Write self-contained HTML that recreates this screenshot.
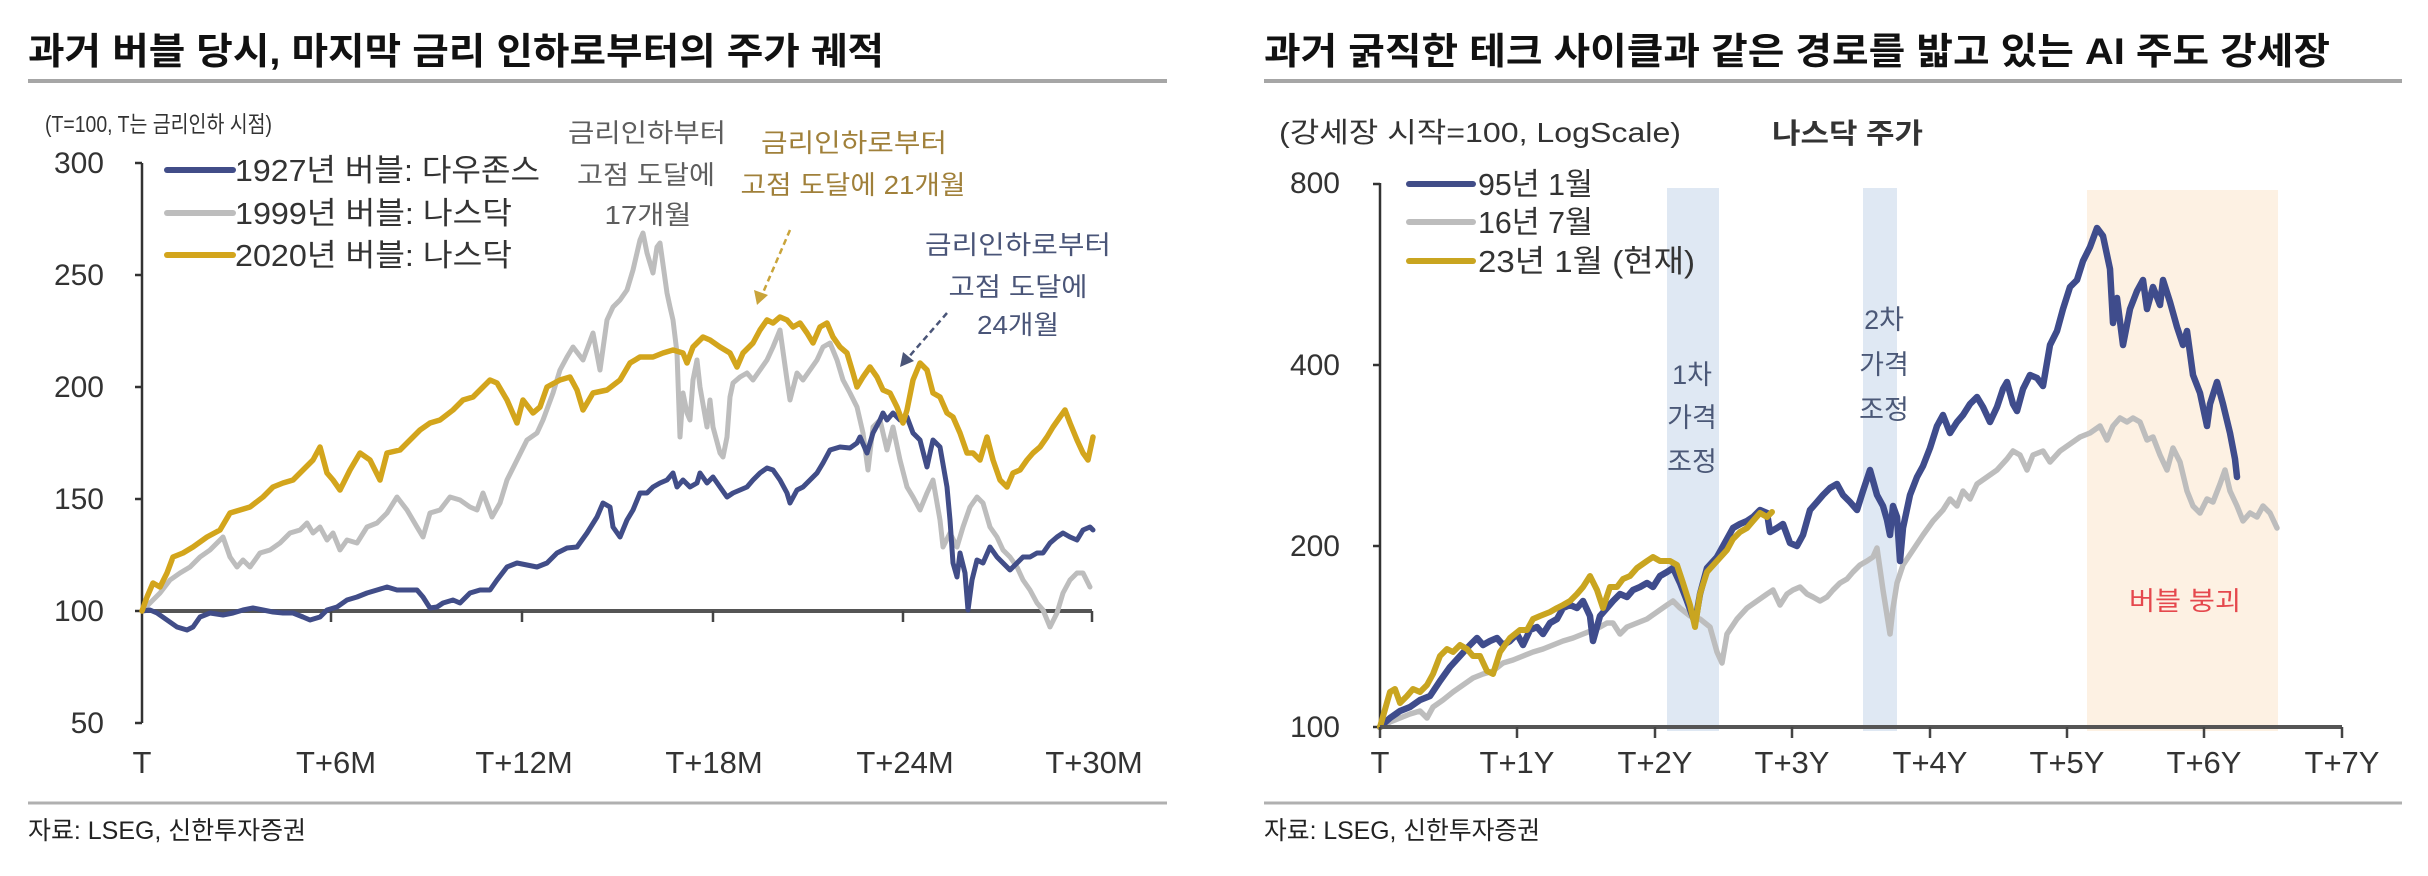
<!DOCTYPE html>
<html><head><meta charset="utf-8">
<style>
html,body{margin:0;padding:0;background:#fff;}
svg{display:block;}
text{font-family:"Liberation Sans","Noto Sans CJK KR",sans-serif;}
</style></head>
<body>
<svg width="2428" height="876" viewBox="0 0 2428 876" xmlns="http://www.w3.org/2000/svg">
<rect width="2428" height="876" fill="#fff"/>

<!-- ================= LEFT PANEL ================= -->
<text x="28" y="64" font-size="37" font-weight="bold" fill="#111" textLength="856" lengthAdjust="spacingAndGlyphs">과거 버블 당시, 마지막 금리 인하로부터의 주가 궤적</text>
<line x1="28" y1="81" x2="1167" y2="81" stroke="#a6a6a6" stroke-width="4"/>

<text x="45" y="132" font-size="23" fill="#333" textLength="227" lengthAdjust="spacingAndGlyphs">(T=100, T는 금리인하 시점)</text>

<!-- y labels -->
<g font-size="30" fill="#333" text-anchor="end">
<text x="104" y="173">300</text>
<text x="104" y="285">250</text>
<text x="104" y="397">200</text>
<text x="104" y="509">150</text>
<text x="104" y="621">100</text>
<text x="104" y="733">50</text>
</g>
<!-- y axis -->
<line x1="142" y1="163" x2="142" y2="723" stroke="#333" stroke-width="2.5"/>
<g stroke="#333" stroke-width="2.5">
<line x1="135" y1="163" x2="142" y2="163"/>
<line x1="135" y1="275" x2="142" y2="275"/>
<line x1="135" y1="387" x2="142" y2="387"/>
<line x1="135" y1="499" x2="142" y2="499"/>
<line x1="135" y1="611" x2="142" y2="611"/>
<line x1="135" y1="723" x2="142" y2="723"/>
</g>

<!-- legend left -->
<g stroke-width="6" stroke-linecap="round">
<line x1="167" y1="170" x2="233" y2="170" stroke="#414d88"/>
<line x1="167" y1="213" x2="233" y2="213" stroke="#bdbdbd"/>
<line x1="167" y1="255" x2="233" y2="255" stroke="#d3a51c"/>
</g>
<g font-size="31" fill="#333">
<text x="235" y="181" textLength="305" lengthAdjust="spacingAndGlyphs">1927년 버블: 다우존스</text>
<text x="235" y="224" textLength="277" lengthAdjust="spacingAndGlyphs">1999년 버블: 나스닥</text>
<text x="235" y="266" textLength="277" lengthAdjust="spacingAndGlyphs">2020년 버블: 나스닥</text>
</g>

<!-- annotations left -->
<g font-size="26" text-anchor="middle">
<text x="647" y="142" fill="#5e5e5e" textLength="158" lengthAdjust="spacingAndGlyphs">금리인하부터</text>
<text x="646" y="184" fill="#5e5e5e" textLength="138" lengthAdjust="spacingAndGlyphs">고점 도달에</text>
<text x="648" y="224" fill="#5e5e5e" textLength="87" lengthAdjust="spacingAndGlyphs">17개월</text>
<text x="854" y="152" fill="#a0803a" textLength="186" lengthAdjust="spacingAndGlyphs">금리인하로부터</text>
<text x="853" y="194" fill="#a0803a" textLength="225" lengthAdjust="spacingAndGlyphs">고점 도달에 21개월</text>
<text x="1018" y="254" fill="#4a5578" textLength="186" lengthAdjust="spacingAndGlyphs">금리인하로부터</text>
<text x="1018" y="296" fill="#4a5578" textLength="139" lengthAdjust="spacingAndGlyphs">고점 도달에</text>
<text x="1018" y="334" fill="#4a5578" textLength="82" lengthAdjust="spacingAndGlyphs">24개월</text>
</g>
<!-- arrows -->
<line x1="790" y1="230" x2="762" y2="295" stroke="#c9a43a" stroke-width="2.5" stroke-dasharray="6,4"/>
<polygon points="757,305 754,290 768,295" fill="#c9a43a"/>
<line x1="947" y1="313" x2="907" y2="359" stroke="#4a5578" stroke-width="2.5" stroke-dasharray="6,4"/>
<polygon points="900,367 903,352 914,361" fill="#4a5578"/>

<!-- x axis left -->
<line x1="142" y1="611" x2="1092" y2="611" stroke="#555" stroke-width="4"/>
<g stroke="#444" stroke-width="2.5">
<line x1="331" y1="611" x2="331" y2="622"/>
<line x1="522" y1="611" x2="522" y2="622"/>
<line x1="713" y1="611" x2="713" y2="622"/>
<line x1="903" y1="611" x2="903" y2="622"/>
<line x1="1092" y1="611" x2="1092" y2="622"/>
</g>
<g font-size="31" fill="#333" text-anchor="middle">
<text x="142" y="773">T</text>
<text x="336" y="773">T+6M</text>
<text x="524" y="773">T+12M</text>
<text x="714" y="773">T+18M</text>
<text x="905" y="773">T+24M</text>
<text x="1094" y="773">T+30M</text>
</g>

<!-- series left -->
<g fill="none" stroke-linejoin="round" stroke-linecap="round">
<polyline stroke="#bdbdbd" stroke-width="5" points="142,611 150,603 160,593 170,580 180,573 190,567 200,557 210,550 220,540 223,537 230,557 237,567 243,560 250,567 260,553 270,550 280,543 290,533 300,530 307,523 313,533 320,527 327,540 333,533 340,550 347,540 357,543 367,527 377,523 387,513 397,497 407,510 417,527 423,537 430,513 440,510 450,497 460,500 470,507 477,510 483,493 492,517 500,503 507,480 517,460 527,440 537,433 543,420 553,393 560,370 567,357 573,347 583,360 593,333 600,370 607,320 613,307 620,300 627,290 633,270 640,240 643,233 647,253 653,273 657,247 660,243 667,293 670,307 673,320 677,353 680,437 683,393 687,413 690,420 693,380 697,360 700,387 707,427 710,400 713,427 720,453 723,457 727,437 730,397 733,383 740,377 747,373 753,380 760,370 767,360 773,347 780,330 787,380 790,400 797,373 803,380 810,370 817,360 823,347 830,343 837,360 843,380 850,393 857,407 863,433 868,470 873,427 880,420 887,450 893,427 900,460 907,487 913,497 920,510 927,493 933,480 940,520 943,547 950,533 957,547 963,527 970,507 977,497 983,503 990,527 997,537 1003,550 1010,557 1017,567 1023,580 1030,590 1037,603 1043,610 1050,627 1057,613 1063,593 1070,580 1077,573 1083,573 1090,587"/>
<polyline stroke="#414d88" stroke-width="5" points="142,611 150,610 157,613 167,620 177,627 187,630 193,627 200,617 210,613 223,615 233,613 243,610 253,608 263,610 273,612 283,613 293,613 303,617 310,620 320,617 327,610 337,607 347,600 357,597 367,593 377,590 387,587 397,590 407,590 417,590 423,597 430,608 437,607 443,603 453,600 460,603 470,593 480,590 490,590 497,580 507,567 517,563 527,565 537,567 547,563 557,553 567,548 577,547 587,533 597,517 603,503 610,507 613,527 620,537 627,520 633,510 640,493 647,493 653,487 660,483 667,480 673,473 677,487 683,480 690,487 697,483 700,473 707,483 713,477 720,487 727,497 733,493 740,490 747,487 753,480 760,473 767,468 773,470 780,480 787,493 790,503 797,490 803,487 810,480 817,473 823,463 830,450 840,447 850,448 857,443 860,437 867,453 873,433 880,420 883,413 887,420 893,413 900,420 907,417 913,433 920,440 927,467 930,453 933,440 940,447 947,487 950,520 953,563 957,577 960,553 965,573 968,610 972,580 977,560 983,563 990,547 997,557 1003,563 1010,570 1017,563 1023,557 1030,557 1037,553 1043,553 1050,543 1057,537 1063,533 1070,537 1077,540 1083,530 1090,527 1093,530"/>
<polyline stroke="#d3a51c" stroke-width="5.5" points="142,611 147,597 153,583 160,587 167,573 173,557 183,553 193,547 207,537 220,530 230,513 240,510 250,507 263,497 273,487 283,483 293,480 303,470 313,460 320,447 327,473 333,480 340,490 350,470 360,453 370,460 380,480 387,453 400,450 410,440 420,430 430,423 440,420 453,410 463,400 473,397 483,387 490,380 497,383 507,400 517,423 523,400 533,413 540,407 547,387 560,380 570,377 577,390 583,410 593,393 607,390 620,380 630,363 640,357 653,357 663,353 673,350 683,353 687,363 693,347 703,337 710,340 720,347 730,353 737,367 743,353 753,343 760,330 767,320 773,323 780,317 787,320 793,327 800,323 807,333 813,343 820,327 827,323 833,337 840,347 847,353 853,373 857,387 863,377 870,367 877,377 883,390 890,393 897,407 903,423 907,410 913,380 920,363 927,370 933,393 940,397 947,413 953,417 960,433 967,453 973,453 980,460 987,437 993,460 1000,480 1007,487 1013,473 1020,470 1027,460 1033,453 1040,447 1047,437 1053,427 1060,417 1065,410 1070,423 1077,440 1083,453 1088,460 1093,437"/>
</g>

<line x1="28" y1="803" x2="1167" y2="803" stroke="#b0b0b0" stroke-width="3"/>
<text x="28" y="839" font-size="25" fill="#222" textLength="278" lengthAdjust="spacingAndGlyphs">자료: LSEG, 신한투자증권</text>

<!-- ================= RIGHT PANEL ================= -->
<text x="1264" y="64" font-size="37" font-weight="bold" fill="#111" textLength="1066" lengthAdjust="spacingAndGlyphs">과거 굵직한 테크 사이클과 같은 경로를 밟고 있는 AI 주도 강세장</text>
<line x1="1264" y1="81" x2="2402" y2="81" stroke="#a6a6a6" stroke-width="4"/>

<text x="1279" y="142" font-size="28" fill="#333" textLength="402" lengthAdjust="spacingAndGlyphs">(강세장 시작=100, LogScale)</text>
<text x="1772" y="143" font-size="28" font-weight="bold" fill="#333" textLength="151" lengthAdjust="spacingAndGlyphs">나스닥 주가</text>

<!-- shaded regions -->
<rect x="1667" y="188" width="52" height="543" fill="#dfe8f3"/>
<rect x="1863" y="188" width="34" height="543" fill="#dfe8f3"/>
<rect x="2087" y="190" width="191" height="541" fill="#fdf1e3"/>

<g font-size="27" fill="#4b5877" text-anchor="middle">
<text x="1692" y="384">1차</text>
<text x="1692" y="427">가격</text>
<text x="1692" y="471">조정</text>
<text x="1884" y="329">2차</text>
<text x="1884" y="374">가격</text>
<text x="1884" y="419">조정</text>
</g>
<text x="2185" y="610" font-size="26" fill="#e5484d" text-anchor="middle" textLength="112" lengthAdjust="spacingAndGlyphs">버블 붕괴</text>

<!-- y labels right -->
<g font-size="30" fill="#333" text-anchor="end">
<text x="1340" y="193">800</text>
<text x="1340" y="375">400</text>
<text x="1340" y="556">200</text>
<text x="1340" y="737">100</text>
</g>
<line x1="1380" y1="183" x2="1380" y2="727" stroke="#333" stroke-width="2.5"/>
<g stroke="#333" stroke-width="2.5">
<line x1="1373" y1="184" x2="1380" y2="184"/>
<line x1="1373" y1="365" x2="1380" y2="365"/>
<line x1="1373" y1="546" x2="1380" y2="546"/>
<line x1="1373" y1="727" x2="1380" y2="727"/>
</g>

<!-- legend right -->
<g stroke-width="6" stroke-linecap="round">
<line x1="1409" y1="184" x2="1473" y2="184" stroke="#414d88"/>
<line x1="1409" y1="222" x2="1473" y2="222" stroke="#bdbdbd"/>
<line x1="1409" y1="261" x2="1473" y2="261" stroke="#c9a520"/>
</g>
<g font-size="31" fill="#333">
<text x="1478" y="195" textLength="115" lengthAdjust="spacingAndGlyphs">95년 1월</text>
<text x="1478" y="233" textLength="115" lengthAdjust="spacingAndGlyphs">16년 7월</text>
<text x="1478" y="272" textLength="217" lengthAdjust="spacingAndGlyphs">23년 1월 (현재)</text>
</g>

<!-- series right -->
<g fill="none" stroke-linejoin="round" stroke-linecap="round">
<polyline stroke="#bdbdbd" stroke-width="5.5" points="1380,727 1390,722 1400,718 1410,714 1420,711 1427,718 1433,707 1443,700 1453,692 1463,685 1473,678 1483,674 1493,671 1503,663 1513,660 1523,656 1533,652 1543,649 1553,645 1563,641 1573,638 1583,634 1593,630 1600,627 1607,623 1613,623 1620,634 1627,627 1637,623 1647,619 1657,612 1667,605 1673,601 1680,608 1690,616 1700,619 1710,627 1717,652 1722,663 1727,634 1737,619 1747,608 1757,601 1767,594 1773,590 1780,605 1787,594 1793,590 1800,587 1807,594 1813,597 1820,601 1827,597 1833,590 1840,583 1847,579 1853,572 1860,565 1867,561 1873,557 1877,548 1883,590 1890,634 1893,608 1897,583 1903,565 1913,550 1923,535 1933,521 1943,510 1950,499 1957,506 1963,491 1970,499 1977,484 1987,477 1997,470 2007,459 2013,451 2020,455 2027,470 2033,455 2043,451 2050,462 2060,451 2070,444 2080,437 2090,433 2100,426 2107,440 2113,426 2120,418 2127,422 2133,418 2140,422 2147,440 2153,437 2160,455 2167,470 2173,448 2180,462 2187,491 2193,506 2200,513 2207,499 2213,502 2220,484 2225,470 2230,491 2237,506 2243,521 2250,513 2257,517 2263,506 2270,513 2277,528"/>
<polyline stroke="#3f4c8c" stroke-width="6.5" points="1380,727 1390,718 1400,711 1410,707 1420,700 1430,696 1440,681 1450,667 1460,656 1470,645 1477,638 1483,645 1490,641 1497,638 1503,645 1510,641 1517,634 1523,645 1530,630 1537,627 1543,634 1550,623 1557,619 1563,608 1570,605 1577,608 1583,601 1590,616 1593,641 1600,616 1607,608 1613,601 1620,594 1627,597 1633,590 1640,587 1647,583 1653,587 1660,576 1667,572 1673,568 1680,583 1687,601 1695,623 1700,594 1707,568 1717,557 1727,539 1733,528 1740,524 1747,521 1753,517 1760,510 1767,513 1770,532 1777,528 1783,524 1790,543 1797,546 1803,535 1810,510 1817,502 1823,495 1830,488 1837,484 1843,495 1850,502 1857,510 1863,491 1870,470 1877,495 1883,506 1887,520 1890,535 1893,506 1897,517 1900,561 1903,528 1910,495 1917,477 1923,466 1930,448 1937,426 1943,415 1950,433 1957,422 1963,415 1970,404 1977,397 1983,407 1990,422 1997,407 2003,389 2007,382 2013,404 2017,411 2023,389 2030,375 2037,378 2043,386 2050,345 2057,331 2063,309 2070,287 2077,280 2083,261 2090,247 2097,228 2103,236 2110,269 2113,323 2117,298 2123,345 2130,309 2137,291 2143,280 2147,309 2153,287 2160,305 2163,280 2170,302 2177,327 2183,345 2187,331 2193,375 2200,393 2207,426 2210,404 2217,382 2223,404 2230,433 2235,459 2237,477"/>
<polyline stroke="#c9a520" stroke-width="6" points="1380,727 1390,692 1395,689 1400,703 1407,696 1413,689 1420,692 1427,685 1433,674 1440,656 1447,649 1453,652 1460,645 1467,649 1473,656 1480,656 1487,671 1493,674 1500,652 1510,638 1520,630 1527,630 1533,619 1540,616 1550,612 1557,608 1563,605 1570,601 1577,594 1583,587 1590,576 1597,590 1603,608 1610,587 1617,587 1623,579 1630,576 1637,568 1647,561 1653,557 1660,561 1670,561 1677,565 1683,583 1690,605 1695,627 1700,594 1707,572 1717,561 1727,550 1733,539 1740,532 1747,528 1753,521 1760,513 1767,517 1772,512"/>
</g>

<!-- x axis right -->
<line x1="1380" y1="727" x2="2342" y2="727" stroke="#555" stroke-width="4"/>
<g stroke="#444" stroke-width="2.5">
<line x1="1380" y1="727" x2="1380" y2="738"/>
<line x1="1517" y1="727" x2="1517" y2="738"/>
<line x1="1655" y1="727" x2="1655" y2="738"/>
<line x1="1792" y1="727" x2="1792" y2="738"/>
<line x1="1930" y1="727" x2="1930" y2="738"/>
<line x1="2067" y1="727" x2="2067" y2="738"/>
<line x1="2204" y1="727" x2="2204" y2="738"/>
<line x1="2342" y1="727" x2="2342" y2="738"/>
</g>
<g font-size="31" fill="#333" text-anchor="middle">
<text x="1380" y="773">T</text>
<text x="1517" y="773">T+1Y</text>
<text x="1655" y="773">T+2Y</text>
<text x="1792" y="773">T+3Y</text>
<text x="1930" y="773">T+4Y</text>
<text x="2067" y="773">T+5Y</text>
<text x="2204" y="773">T+6Y</text>
<text x="2342" y="773">T+7Y</text>
</g>

<line x1="1264" y1="803" x2="2402" y2="803" stroke="#b0b0b0" stroke-width="3"/>
<text x="1264" y="839" font-size="25" fill="#222" textLength="276" lengthAdjust="spacingAndGlyphs">자료: LSEG, 신한투자증권</text>
</svg>
</body></html>
